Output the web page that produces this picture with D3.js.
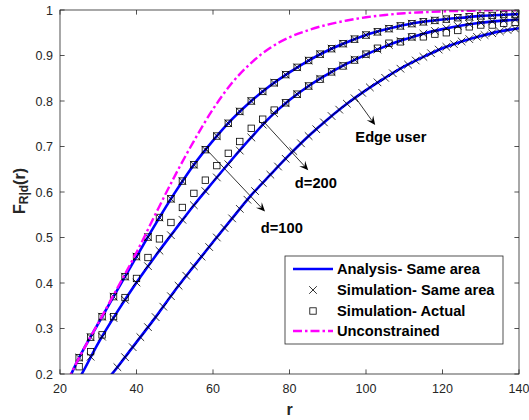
<!DOCTYPE html>
<html>
<head>
<meta charset="utf-8">
<script src="https://cdn.jsdelivr.net/npm/d3@7"></script>
<style>
  body { margin: 0; background: #fff; }
  text { font-family: "Liberation Sans", Arial, Helvetica, sans-serif; }
</style>
</head>
<body>
<svg id="chart" width="529" height="420"></svg>
<script>
// ---- data ----
var anaR = [20,25,30,35,40,45,50,55,60,65,70,75,80,85,90,95,100,105,110,115,120,125,130,135,140];
// analysis, three users (upper / d=100 / edge)
var anaA = [0.145,0.236,0.311,0.385,0.458,0.530,0.598,0.660,0.713,0.760,0.800,0.834,0.863,0.889,0.911,0.929,0.945,0.957,0.967,0.974,0.979,0.983,0.987,0.989,0.991];
var anaB = [0.130,0.190,0.268,0.337,0.401,0.460,0.516,0.571,0.622,0.672,0.720,0.765,0.802,0.833,0.859,0.882,0.902,0.920,0.935,0.948,0.958,0.966,0.972,0.976,0.979];
var anaC = [0.030,0.080,0.160,0.215,0.270,0.325,0.383,0.437,0.490,0.542,0.593,0.638,0.682,0.723,0.760,0.794,0.824,0.851,0.876,0.897,0.916,0.931,0.943,0.953,0.960];
var unconstrained = [0.150,0.236,0.312,0.389,0.467,0.552,0.635,0.712,0.782,0.840,0.884,0.917,0.940,0.956,0.968,0.977,0.984,0.989,0.993,0.995,0.997,0.998,0.999,1.000,1.000];

// simulation points every 3 units of r
var simR3 = [25,28,31,34,37,40,43,46,49,52,55,58,61,64,67,70,73,76,79,82,85,88,91,94,97,100,103,106,109,112,115,118,121,124,127,130,133,136,139];
var simSameA = [0.236,0.281,0.326,0.370,0.414,0.458,0.501,0.544,0.585,0.624,0.660,0.693,0.723,0.751,0.777,0.800,0.821,0.840,0.858,0.874,0.889,0.903,0.915,0.926,0.936,0.945,0.952,0.959,0.965,0.970,0.974,0.977,0.980,0.983,0.985,0.987,0.988,0.990,0.991];
var simActA  = [0.236,0.281,0.326,0.370,0.414,0.458,0.501,0.544,0.585,0.624,0.660,0.693,0.723,0.751,0.777,0.800,0.821,0.840,0.858,0.874,0.889,0.903,0.915,0.926,0.936,0.945,0.952,0.959,0.965,0.970,0.974,0.977,0.980,0.983,0.985,0.987,0.988,0.990,0.991];
var simSameB = [0.190,0.238,0.282,0.323,0.363,0.401,0.437,0.471,0.505,0.539,0.571,0.602,0.632,0.661,0.691,0.720,0.748,0.773,0.795,0.815,0.833,0.849,0.864,0.878,0.891,0.902,0.913,0.923,0.932,0.940,0.948,0.954,0.960,0.965,0.969,0.972,0.975,0.977,0.979];
var simActB  = [0.216,0.249,0.286,0.326,0.368,0.410,0.456,0.497,0.533,0.566,0.597,0.626,0.658,0.685,0.711,0.740,0.760,0.780,0.796,0.815,0.833,0.848,0.864,0.877,0.890,0.903,0.916,0.927,0.930,0.941,0.941,0.947,0.950,0.955,0.963,0.967,0.967,0.971,0.973];

// edge user simulation, every 2 units of r
var simR2 = [35,37,39,41,43,45,47,49,51,53,55,57,59,61,63,65,67,69,71,73,75,77,79,81,83,85,87,89,91,93,95,97,99,101,103,105,107,109,111,113,115,117,119,121,123,125,127,129,131,133,135,137,139];
var simSameC = [0.215,0.237,0.259,0.281,0.303,0.325,0.348,0.371,0.394,0.416,0.437,0.458,0.479,0.500,0.521,0.542,0.563,0.583,0.602,0.620,0.638,0.656,0.673,0.690,0.707,0.723,0.738,0.753,0.767,0.781,0.794,0.806,0.818,0.830,0.841,0.851,0.861,0.871,0.880,0.889,0.897,0.905,0.913,0.919,0.925,0.931,0.936,0.941,0.945,0.949,0.953,0.956,0.959];

var xTicks = [20,40,60,80,100,120,140];
var yTicks = [0.2,0.3,0.4,0.5,0.6,0.7,0.8,0.9,1];
var legendLabels = ["Analysis- Same area","Simulation- Same area","Simulation- Actual","Unconstrained"];
// annotations: [label, arrow start r, F, arrow end r, F, label r, F]
var notes = [
  ["d=100", 57.9,0.697, 73.6,0.557, 78.0,0.510],
  ["d=200", 73.2,0.755, 84.9,0.648, 86.9,0.609],
  ["Edge user", 97.1,0.809, 102.4,0.747, 106.5,0.710]
];

// ---- chart ----
var svg = d3.select("#chart");
var pLeft = 60, pRight = 519, pTop = 10, pBottom = 374;
var axisColor = "#262626";

var x = d3.scaleLinear().domain([20,140]).range([pLeft,pRight]);
var y = d3.scaleLinear().domain([0.2,1]).range([pBottom,pTop]);

svg.append("defs").append("clipPath").attr("id","plotclip")
   .append("rect").attr("x",pLeft).attr("y",pTop).attr("width",pRight-pLeft).attr("height",pBottom-pTop);

var plot = svg.append("g").attr("clip-path","url(#plotclip)");

var line = d3.line().curve(d3.curveMonotoneX)
    .x(d => x(d[0])).y(d => y(d[1]));

function pairs(rs, vs) { return rs.map((r,i) => [r, vs[i]]); }

// analysis lines
[anaA, anaB, anaC].forEach(function(vals){
  plot.append("path")
      .attr("d", line(pairs(anaR, vals)))
      .attr("fill","none")
      .attr("stroke","#0000ff")
      .attr("stroke-width",2.6);
});

function crosses(g, pts, s) {
  g.selectAll(null).data(pts).enter().append("path")
    .attr("d", d => { var cx = x(d[0]), cy = y(d[1]);
      return "M"+(cx-s)+","+(cy-s)+"L"+(cx+s)+","+(cy+s)+"M"+(cx-s)+","+(cy+s)+"L"+(cx+s)+","+(cy-s); })
    .attr("stroke","#000").attr("stroke-width",0.8).attr("fill","none");
}
function squares(g, pts, s) {
  g.selectAll(null).data(pts).enter().append("rect")
    .attr("x", d => x(d[0]) - s).attr("y", d => y(d[1]) - s)
    .attr("width", 2*s).attr("height", 2*s)
    .attr("fill","none").attr("stroke","#000").attr("stroke-width",0.8);
}

crosses(plot, pairs(simR3, simSameA), 3.8);
crosses(plot, pairs(simR3, simSameB), 3.8);
crosses(plot, pairs(simR2, simSameC), 3.8);
squares(plot, pairs(simR3, simActA), 3.2);
squares(plot, pairs(simR3, simActB), 3.2);

plot.append("path")
    .attr("d", line(pairs(anaR, unconstrained)))
    .attr("fill","none")
    .attr("stroke","#ff00ff")
    .attr("stroke-width",2.4)
    .attr("stroke-dasharray","9,3,2.5,3");

// axes box
svg.append("rect").attr("x",pLeft).attr("y",pTop).attr("width",pRight-pLeft).attr("height",pBottom-pTop)
   .attr("fill","none").attr("stroke",axisColor).attr("stroke-width",0.8);

var tickLen = 4.6;
xTicks.forEach(function(t){
  svg.append("line").attr("x1",x(t)).attr("x2",x(t)).attr("y1",pBottom).attr("y2",pBottom-tickLen)
     .attr("stroke",axisColor).attr("stroke-width",0.8);
  svg.append("line").attr("x1",x(t)).attr("x2",x(t)).attr("y1",pTop).attr("y2",pTop+tickLen)
     .attr("stroke",axisColor).attr("stroke-width",0.8);
  svg.append("text").attr("x",x(t)).attr("y",pBottom+19).attr("text-anchor","middle")
     .attr("font-size",12.5).attr("fill",axisColor).text(t);
});
yTicks.forEach(function(t){
  svg.append("line").attr("x1",pLeft).attr("x2",pLeft+tickLen).attr("y1",y(t)).attr("y2",y(t))
     .attr("stroke",axisColor).attr("stroke-width",0.8);
  svg.append("line").attr("x1",pRight).attr("x2",pRight-tickLen).attr("y1",y(t)).attr("y2",y(t))
     .attr("stroke",axisColor).attr("stroke-width",0.8);
  svg.append("text").attr("x",pLeft-7).attr("y",y(t)+4.5).attr("text-anchor","end")
     .attr("font-size",12.5).attr("fill",axisColor).text(t);
});

// axis labels
svg.append("text").attr("x",(pLeft+pRight)/2).attr("y",415).attr("text-anchor","middle")
   .attr("font-size",16).attr("font-weight","bold").attr("fill",axisColor).text("r");

var yl = svg.append("text").attr("transform","translate(25,191) rotate(-90)")
   .attr("text-anchor","middle").attr("font-weight","bold").attr("fill",axisColor).attr("font-size",16);
yl.append("tspan").text("F");
yl.append("tspan").attr("font-size",12).attr("dy",3).text("R|d");
yl.append("tspan").attr("dy",-3).text("(r)");

// annotations
notes.forEach(function(n){
  var x1 = x(n[1]), y1 = y(n[2]), x2 = x(n[3]), y2 = y(n[4]);
  var ang = Math.atan2(y2-y1, x2-x1), L = 9, W = 4;
  var bx = x2 - L*Math.cos(ang), by = y2 - L*Math.sin(ang);
  var nx = -Math.sin(ang), ny = Math.cos(ang);
  var mx = x2 - 0.6*L*Math.cos(ang), my = y2 - 0.6*L*Math.sin(ang);
  svg.append("line").attr("x1",x1).attr("y1",y1).attr("x2",mx).attr("y2",my)
     .attr("stroke","#000").attr("stroke-width",0.8);
  svg.append("path")
     .attr("d","M"+x2+","+y2+"L"+(bx+W*nx)+","+(by+W*ny)+"L"+mx+","+my+"L"+(bx-W*nx)+","+(by-W*ny)+"Z")
     .attr("fill","#000");
  svg.append("text").attr("x",x(n[5])).attr("y",y(n[6])).attr("text-anchor","middle")
     .attr("font-size",14.7).attr("font-weight","bold").attr("fill","#000").text(n[0]);
});

// legend
var lg = svg.append("g");
lg.append("rect").attr("x",285).attr("y",256).attr("width",218).attr("height",88)
  .attr("fill","#fff").attr("stroke",axisColor).attr("stroke-width",0.8);
var rowY = [269, 290, 311, 331];
legendLabels.forEach(function(lab,i){
  var cy = rowY[i];
  if (i === 0) {
    lg.append("line").attr("x1",293).attr("x2",333).attr("y1",cy).attr("y2",cy)
      .attr("stroke","#0000ff").attr("stroke-width",2.6);
  } else if (i === 1) {
    var s = 3.8;
    lg.append("path").attr("d","M"+(313-s)+","+(cy-s)+"L"+(313+s)+","+(cy+s)+"M"+(313-s)+","+(cy+s)+"L"+(313+s)+","+(cy-s))
      .attr("stroke","#000").attr("stroke-width",0.8);
  } else if (i === 2) {
    lg.append("rect").attr("x",313-3.2).attr("y",cy-3.2).attr("width",6.4).attr("height",6.4)
      .attr("fill","none").attr("stroke","#000").attr("stroke-width",0.8);
  } else {
    lg.append("line").attr("x1",293).attr("x2",333).attr("y1",cy).attr("y2",cy)
      .attr("stroke","#ff00ff").attr("stroke-width",2.4).attr("stroke-dasharray","9,3,2.5,3");
  }
  lg.append("text").attr("x",337).attr("y",cy+5).attr("font-size",14.7).attr("font-weight","bold")
    .attr("fill","#000").text(lab);
});
</script>
</body>
</html>
